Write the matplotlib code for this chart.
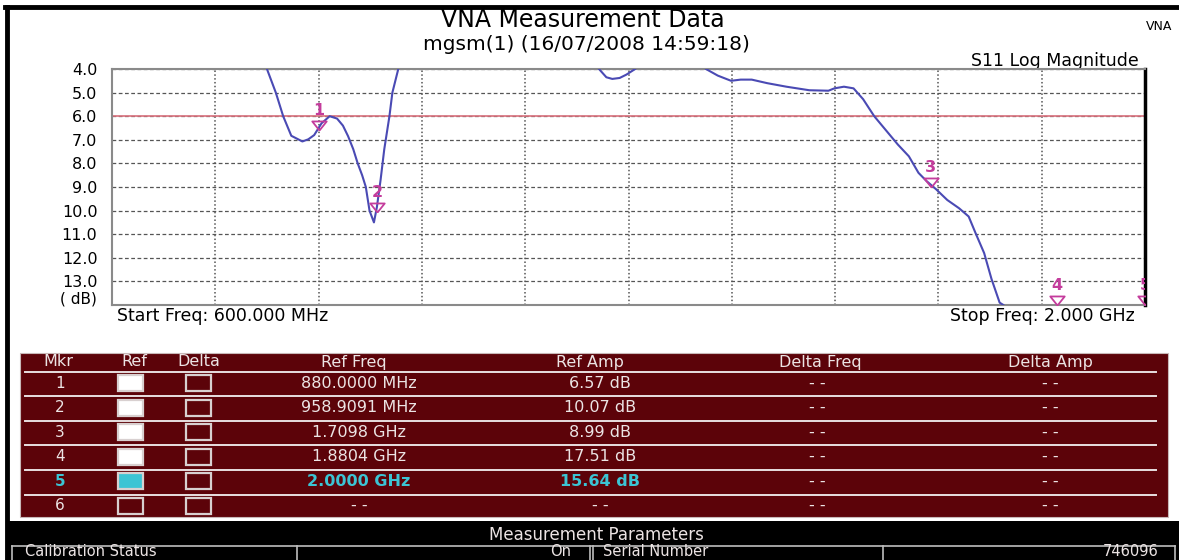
import numpy as np
import matplotlib
matplotlib.use("Agg")
import matplotlib.pyplot as plt
from matplotlib.patches import Rectangle

# S11 trace (MHz, dB); nan = trace off the top of the screen
trace_freq = [810, 822, 832, 843, 858, 866, 874, 884, 895, 905, 913, 920, 927, 933, 939,
              944, 949, 955, 959, 964, 969, 976, 980, 988, np.nan,
              1260, 1270, 1278, 1288, 1297, 1309, np.nan,
              1405, 1421, 1439, 1452, 1467, 1488, 1514, 1545, 1571, 1579, 1592, 1605,
              1618, 1633, 1649, 1665, 1680, 1693, 1704, 1717, 1732, 1748, 1761, 1771,
              1782, 1792, 1803, 1808]
trace_db = [4.0, 5.0, 6.0, 6.83, 7.07, 6.98, 6.8, 6.3, 6.0, 6.1, 6.4, 6.85, 7.4, 8.0, 8.5,
            9.0, 10.0, 10.5, 9.85, 8.7, 7.4, 6.0, 5.0, 4.0, np.nan,
            4.0, 4.35, 4.42, 4.38, 4.24, 4.0, np.nan,
            4.0, 4.28, 4.5, 4.45, 4.45, 4.6, 4.75, 4.9, 4.92, 4.82, 4.75, 4.82,
            5.28, 6.0, 6.6, 7.2, 7.7, 8.4, 8.75, 9.1, 9.55, 9.9, 10.25, 11.0,
            11.8, 12.9, 13.9, 14.0]
limit_db = 6.0

marker_ids = ["1", "2", "3", "4", "5"]
marker_freq = [880.0, 958.9091, 1709.8, 1880.4, 2000.0]
marker_db = [6.57, 10.07, 8.99, 17.51, 15.64]

y_ticks = [4, 5, 6, 7, 8, 9, 10, 11, 12, 13]
y_labels = ["4.0", "5.0", "6.0", "7.0", "8.0", "9.0", "10.0", "11.0", "12.0", "13.0"]

# marker table
tbl_header = ["Mkr", "Ref", "Delta", "Ref Freq", "Ref Amp", "Delta Freq", "Delta Amp"]
tbl_mkr = ["1", "2", "3", "4", "5", "6"]
tbl_ref_on = [True, True, True, True, "active", False]
tbl_ref_freq = ["880.0000 MHz", "958.9091 MHz", "1.7098 GHz", "1.8804 GHz", "2.0000 GHz", "- -"]
tbl_ref_amp = ["6.57 dB", "10.07 dB", "8.99 dB", "17.51 dB", "15.64 dB", "- -"]
tbl_delta_freq = ["- -"] * 6
tbl_delta_amp = ["- -"] * 6

W, H = 1179, 560
fig = plt.figure(figsize=(W / 100, H / 100), dpi=100)
fig.patch.set_facecolor("white")

# background canvas in pixel units
bg = fig.add_axes([0, 0, 1, 1])
bg.set_xlim(0, W)
bg.set_ylim(H, 0)
bg.axis("off")

FONT = "DejaVu Sans"
TXT = "#ece4e4"
CYAN = "#3cc4d4"
RED_BG = "#5c0309"
MK = "#c43c9c"

# outer frame
bg.plot([5, W], [7, 7], color="black", lw=3.5)
bg.plot([7, 7], [7, H], color="black", lw=3.5)

# titles
bg.text(583, 20, "VNA Measurement Data", ha="center", va="center", fontsize=17, family=FONT)
bg.text(586, 45, "mgsm(1) (16/07/2008 14:59:18)", ha="center", va="center", fontsize=14.5, family=FONT)
bg.text(1172, 26, "VNA", ha="right", va="center", fontsize=9, family=FONT)
bg.text(1139, 61, "S11 Log Magnitude", ha="right", va="center", fontsize=12.5, family=FONT)
bg.text(117, 316, "Start Freq: 600.000 MHz", ha="left", va="center", fontsize=12.5, family=FONT)
bg.text(1135, 316, "Stop Freq: 2.000 GHz", ha="right", va="center", fontsize=12.5, family=FONT)
bg.text(97, 299, "( dB)", ha="right", va="center", fontsize=11, family=FONT)

# measurement plot
x0, x1, y0, y1 = 112, 1145, 69, 305
ax = fig.add_axes([x0 / W, 1 - y1 / H, (x1 - x0) / W, (y1 - y0) / H])
ax.set_xlim(600, 2000)
ax.set_ylim(14, 4)
ax.set_xticks(np.arange(600, 2001, 140))
ax.set_xticklabels([])
ax.set_yticks(y_ticks)
ax.set_yticklabels(y_labels, family=FONT, fontsize=11.5)
ax.tick_params(length=0, pad=10.5)
ax.xaxis.grid(True, linestyle=(0, (1, 1.5)), color="#555555", lw=1.1)
ax.yaxis.grid(True, linestyle=(0, (3, 2)), color="#555555", lw=0.9)
for side in ["left", "top", "bottom"]:
    ax.spines[side].set_color("#8a8a8a")
    ax.spines[side].set_linewidth(1.5)
ax.spines["right"].set_color("black")
ax.spines["right"].set_linewidth(2.5)

ax.axhline(limit_db, color="#d8707c", lw=1.2, zorder=2)
ax.plot(trace_freq, trace_db, color="#4a4ab4", lw=1.5, zorder=3)

# markers: hollow triangle with its tip on the value, number above
tri = [(0, 0), (-0.8, 1.0), (0.8, 1.0), (0, 0)]
ylo = ax.get_ylim()[0]
shown_db = np.minimum(marker_db, ylo)
ax.plot(marker_freq, shown_db, linestyle="none", marker=tri, markersize=13,
        markerfacecolor="none", markeredgecolor=MK, markeredgewidth=1.3, zorder=4)
for mid, f, d in zip(marker_ids, marker_freq, shown_db):
    ax.annotate(mid, (f, d), xytext=(0, 14), textcoords="offset points",
                ha="center", va="center", color=MK, fontsize=11.5, fontweight="bold",
                family=FONT, zorder=5, annotation_clip=False, clip_on=True)

# marker table
bg.add_patch(Rectangle((20, 353), 1148, 164, facecolor=RED_BG, edgecolor="#c8b8b8", lw=0.8))
col_x = [58, 134, 199, 354, 590, 820, 1050]
for cx, lab in zip(col_x, tbl_header):
    bg.text(cx, 362, lab, ha="center", va="center", color=TXT, fontsize=11.5, family=FONT)
row_y0, row_dy = 383, 24.6
for i in range(6):
    yl = row_y0 - 11.5 + i * row_dy
    bg.plot([25, 1156], [yl, yl], color="#e8e0e0", lw=1.4)
for i, mk in enumerate(tbl_mkr):
    cy = row_y0 + i * row_dy
    active = tbl_ref_on[i] == "active"
    col = CYAN if active else TXT
    wt = "bold" if active else "normal"
    bg.text(60, cy, mk, ha="center", va="center", color=col, fontsize=11, family=FONT, fontweight=wt)
    if active:
        face = CYAN
    elif tbl_ref_on[i]:
        face = "white"
    else:
        face = RED_BG
    bg.add_patch(Rectangle((118, cy - 8), 25, 16, facecolor=face, edgecolor="#d8d0d0", lw=1.6))
    bg.add_patch(Rectangle((186, cy - 8), 25, 16, facecolor=RED_BG, edgecolor="#d8d0d0", lw=1.6))
    bg.text(359, cy, tbl_ref_freq[i], ha="center", va="center", color=col, fontsize=11.5,
            family=FONT, fontweight=wt)
    bg.text(600, cy, tbl_ref_amp[i], ha="center", va="center", color=col, fontsize=11.5,
            family=FONT, fontweight=wt)
    bg.text(817, cy, tbl_delta_freq[i], ha="center", va="center", color=TXT, fontsize=11.5, family=FONT)
    bg.text(1050, cy, tbl_delta_amp[i], ha="center", va="center", color=TXT, fontsize=11.5, family=FONT)

# measurement parameters band
bg.add_patch(Rectangle((9, 521), W - 9, H - 521, facecolor="black", edgecolor="none"))
bg.text(596, 535, "Measurement Parameters", ha="center", va="center", color=TXT, fontsize=12, family=FONT)
bg.plot([12, 1175], [545.5, 545.5], color="#bdbdbd", lw=1.2)
for xv in [12, 297, 590, 593, 883, 1175]:
    bg.plot([xv, xv], [545.5, H], color="#bdbdbd", lw=1.2)
bg.text(25, 552, "Calibration Status", ha="left", va="center", color=TXT, fontsize=10.5, family=FONT)
bg.text(571, 552, "On", ha="right", va="center", color=TXT, fontsize=10.5, family=FONT)
bg.text(603, 552, "Serial Number", ha="left", va="center", color=TXT, fontsize=10.5, family=FONT)
bg.text(1158, 552, "746096", ha="right", va="center", color=TXT, fontsize=10.5, family=FONT)

fig.savefig("out.png", dpi=100)
